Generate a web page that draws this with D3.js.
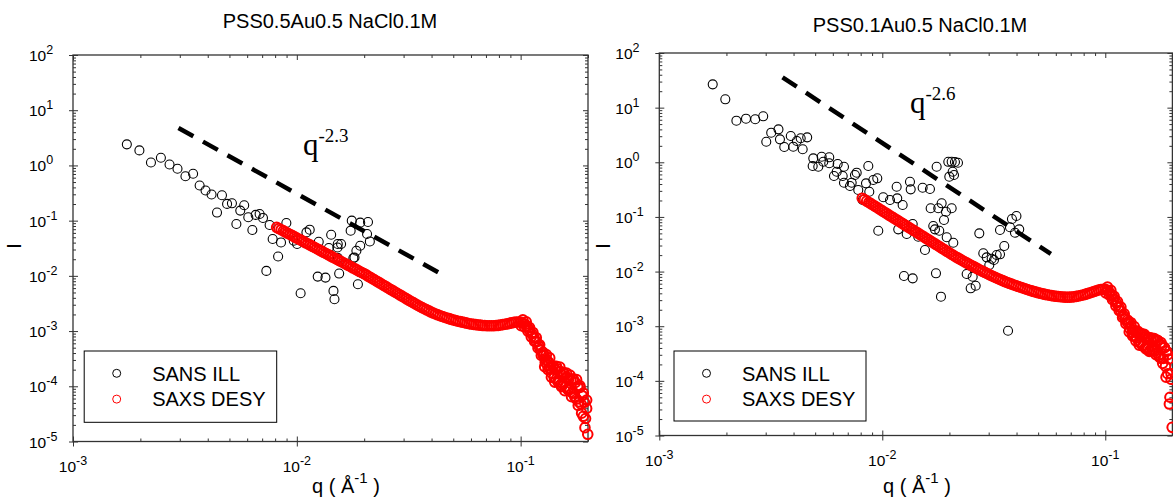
<!DOCTYPE html>
<html><head><meta charset="utf-8">
<script src="https://cdn.jsdelivr.net/npm/d3@7"></script>
<style>
body{margin:0;background:#fff;}
svg{display:block;}
text{font-family:"Liberation Sans",Arial,Helvetica,sans-serif;fill:#000;}
</style>
</head><body>
<svg id="chart" width="1173" height="503"></svg>
<script>
// ---------- DATA ----------
const titles = ["PSS0.5Au0.5 NaCl0.1M", "PSS0.1Au0.5 NaCl0.1M"];
const exponents = ["-2.3", "-2.6"];
const legendLabels = ["SANS ILL", "SAXS DESY"];
const xDomain = [1e-3, 0.2];
const yDomain = [1e-5, 1e2];

// SANS ILL, panel A (PSS0.5Au0.5)
const sansQ_A = [0.00174,0.00198,0.00223,0.00247,0.00270,0.00293,0.00318,0.00344,0.00368,0.00391,
  0.00416,0.00463,0.00440,0.00488,0.00513,0.00559,0.00582,0.00537,0.00607,0.00633,
  0.00655,0.00682,0.00706,0.00756,0.00731,0.00780,0.00825,0.00850,0.00898,0.00969,
  0.01003,0.01104,0.01142,0.01253,0.01240,0.01343,0.01424,0.01390,0.01524,0.01577,
  0.01520,0.01760,0.01920,0.02080,0.01740,0.02060,0.01920,0.01846,0.02120,0.01810,
  0.01040,0.01458,0.01473,0.01546,0.01527,0.01673,0.01789,0.01920,0.01875];
const sansI_A = [2.41,1.87,1.13,1.38,1.04,0.871,0.638,0.706,0.433,0.351,
  0.297,0.288,0.140,0.201,0.206,0.152,0.190,0.087,0.115,0.0678,
  0.127,0.132,0.112,0.0835,0.0123,0.0465,0.0224,0.0403,0.0908,0.0433,
  0.0377,0.0612,0.0686,0.0415,0.0097,0.0093,0.0556,0.0319,0.0377,0.0377,
  0.0327,0.100,0.092,0.0947,0.0658,0.0573,0.0351,0.0285,0.0420,0.0215,
  0.00484,0.00534,0.00377,0.0110,0.0210,0.0158,0.0210,0.0115,0.00706];

// SANS ILL, panel B (PSS0.1Au0.5)
const sansQ_B = [0.001736,0.001977,0.002217,0.002448,0.002692,0.002924,0.003018,0.003176,0.003423,0.003476,
  0.003635,0.003887,0.003989,0.004140,0.004306,0.004605,0.004395,0.004904,0.004873,0.005164,
  0.005348,0.005437,0.005783,0.005783,0.006309,0.006245,0.006072,0.006733,0.006644,0.006733,
  0.007163,0.007290,0.007542,0.007677,0.007804,0.008452,0.008656,0.008744,0.009114,0.009496,
  0.008166,0.009594,0.01010,0.01083,0.01160,0.01167,0.01234,0.01331,0.01341,0.01517,
  0.01636,0.01753,0.01977,0.02047,0.02118,0.02185,0.02068,0.02097,0.01998,0.01648,
  0.01782,0.01846,0.01930,0.02047,0.01891,0.01693,0.01723,0.01801,0.01945,0.02082,
  0.01554,0.01369,0.01287,0.01179,0.01402,0.01450,0.02723,0.03372,0.03524,0.02838,
  0.02939,0.03094,0.03258,0.03372,0.03019,0.03168,0.03737,0.03815,0.03996,0.04113,
  0.03936,0.01251,0.01369,0.01741,0.01833,0.02390,0.02543,0.02491,0.02623,0.03664];
const sansI_B = [26.7,14.2,5.77,6.28,6.12,6.94,2.38,3.48,4.01,2.63,
  1.90,3.03,1.93,2.45,2.75,2.86,1.73,1.18,0.855,0.830,
  1.265,1.025,1.233,0.958,0.930,0.672,0.561,0.830,0.561,0.423,
  0.368,0.423,0.585,0.645,0.311,0.412,0.855,0.289,0.474,0.509,
  0.204,0.0559,0.229,0.204,0.357,0.219,0.165,0.441,0.320,0.342,
  0.324,0.830,1.02,1.02,1.01,0.982,0.672,0.585,0.545,0.144,
  0.144,0.1775,0.1246,0.144,0.0878,0.0682,0.0593,0.0559,0.0424,0.0337,
  0.0248,0.0742,0.0487,0.0593,0.0536,0.0434,0.0501,0.0576,0.0294,0.0216,
  0.0182,0.0172,0.0201,0.0207,0.0132,0.0163,0.0646,0.0916,0.104,0.0593,
  0.0514,0.00829,0.00752,0.00929,0.00347,0.00902,0.00805,0.00494,0.00551,0.000827];

// SAXS DESY q grid (shared by both panels)
const saxsQ = [0.008128,0.008318,0.008511,0.008710,0.008913,0.009120,0.009333,0.009550,0.009772,0.01000,
  0.01023,0.01047,0.01072,0.01096,0.01122,0.01148,0.01175,0.01202,0.01230,0.01259,
  0.01288,0.01318,0.01349,0.01380,0.01413,0.01445,0.01479,0.01514,0.01549,0.01585,
  0.01622,0.01660,0.01698,0.01738,0.01778,0.01820,0.01862,0.01905,0.01950,0.01995,
  0.02042,0.02089,0.02138,0.02188,0.02239,0.02291,0.02344,0.02399,0.02455,0.02512,
  0.02570,0.02630,0.02692,0.02754,0.02818,0.02884,0.02951,0.03020,0.03090,0.03162,
  0.03236,0.03311,0.03388,0.03467,0.03548,0.03631,0.03715,0.03802,0.03890,0.03981,
  0.04074,0.04169,0.04266,0.04365,0.04467,0.04571,0.04677,0.04786,0.04898,0.05012,
  0.05129,0.05248,0.05370,0.05495,0.05623,0.05754,0.05888,0.06026,0.06166,0.06310,
  0.06457,0.06607,0.06761,0.06918,0.07079,0.07244,0.07413,0.07586,0.07762,0.07943,
  0.08128,0.08318,0.08511,0.08710,0.08913,0.09120,0.09333,0.09550,0.09772,0.1000,
  0.1023,0.1047,0.1072,0.1096,0.1122,0.1148,0.1175,0.1202,0.1230,0.1259,
  0.1274,0.1288,0.1303,0.1318,0.1334,0.1349,0.1365,0.1380,0.1396,0.1413,
  0.1429,0.1445,0.1462,0.1479,0.1496,0.1514,0.1531,0.1549,0.1567,0.1585,
  0.1603,0.1622,0.1641,0.1660,0.1679,0.1698,0.1718,0.1738,0.1758,0.1778,
  0.1799,0.1820,0.1841,0.1862,0.1884,0.1905,0.1928,0.1950,0.1972,0.1995,
  // additional high-q frames
  0.10058,0.10233,0.10411,0.10593,0.10778,0.10965,0.11156,0.11350,0.11548,0.11749,
  0.11954,0.12162,0.12374,0.12589,0.12809,0.13032,0.13259,0.13490,0.13725,0.13964,
  0.14208,0.14454,0.14706,0.14962,0.15223,0.15488,0.15758,0.16032,0.16312,0.16596,
  0.16885,0.17179,0.17478,0.17783,0.18092,0.18408,0.18728,0.19055,0.19387,0.19724];

// SAXS DESY intensities, panel A
const saxsI_A = [7.56e-2,7.19e-2,6.85e-2,6.52e-2,6.20e-2,5.90e-2,5.62e-2,5.35e-2,5.09e-2,4.84e-2,
  4.61e-2,4.39e-2,4.17e-2,3.97e-2,3.78e-2,3.60e-2,3.42e-2,3.26e-2,3.10e-2,2.95e-2,
  2.81e-2,2.67e-2,2.54e-2,2.42e-2,2.30e-2,2.19e-2,2.09e-2,1.99e-2,1.89e-2,1.80e-2,
  1.71e-2,1.63e-2,1.55e-2,1.48e-2,1.40e-2,1.34e-2,1.27e-2,1.21e-2,1.15e-2,1.10e-2,
  1.04e-2,9.82e-3,9.29e-3,8.79e-3,8.32e-3,7.87e-3,7.45e-3,7.05e-3,6.67e-3,6.31e-3,
  5.97e-3,5.65e-3,5.35e-3,5.06e-3,4.79e-3,4.53e-3,4.29e-3,4.06e-3,3.84e-3,3.63e-3,
  3.44e-3,3.27e-3,3.10e-3,2.94e-3,2.79e-3,2.66e-3,2.54e-3,2.43e-3,2.32e-3,2.21e-3,
  2.12e-3,2.04e-3,1.97e-3,1.90e-3,1.84e-3,1.78e-3,1.73e-3,1.68e-3,1.63e-3,1.59e-3,
  1.55e-3,1.51e-3,1.48e-3,1.45e-3,1.42e-3,1.39e-3,1.36e-3,1.34e-3,1.32e-3,1.31e-3,
  1.29e-3,1.28e-3,1.26e-3,1.26e-3,1.25e-3,1.25e-3,1.25e-3,1.25e-3,1.26e-3,1.27e-3,
  1.29e-3,1.31e-3,1.33e-3,1.35e-3,1.38e-3,1.41e-3,1.44e-3,1.46e-3,1.46e-3,1.45e-3,
  1.40e-3,1.32e-3,1.19e-3,1.04e-3,8.91e-4,7.59e-4,6.46e-4,5.43e-4,4.47e-4,3.67e-4,
  3.67e-4,2.73e-4,3.04e-4,2.40e-4,2.74e-4,2.11e-4,2.30e-4,1.73e-4,2.25e-4,1.43e-4,
  1.99e-4,1.35e-4,2.06e-4,1.30e-4,1.85e-4,1.07e-4,1.61e-4,1.10e-4,1.69e-4,9.84e-5,
  1.47e-4,8.97e-5,1.34e-4,8.77e-5,1.31e-4,7.64e-5,1.31e-4,7.46e-5,1.17e-4,5.87e-5,
  9.77e-5,5.22e-5,9.51e-5,4.75e-5,6.76e-5,2.86e-5,5.13e-5,2.61e-5,3.98e-5,1.35e-5,
  1.25e-3,1.60e-3,1.19e-3,1.47e-3,1.00e-3,1.16e-3,7.87e-4,9.44e-4,6.49e-4,7.59e-4,
  4.94e-4,5.65e-4,3.62e-4,4.12e-4,2.27e-4,3.74e-4,2.01e-4,3.27e-4,1.46e-4,2.36e-4,
  1.19e-4,2.29e-4,1.19e-4,2.23e-4,9.86e-5,1.79e-4,8.32e-5,1.73e-4,8.61e-5,1.60e-4,
  6.46e-5,1.37e-4,6.31e-5,1.32e-4,4.51e-5,1.02e-4,3.26e-5,7.53e-5,1.78e-5,5.62e-5];

// SAXS DESY intensities, panel B
const saxsI_B = [2.20e-1,2.07e-1,1.95e-1,1.84e-1,1.74e-1,1.64e-1,1.55e-1,1.46e-1,1.37e-1,1.29e-1,
  1.22e-1,1.15e-1,1.08e-1,1.02e-1,9.64e-2,9.08e-2,8.57e-2,8.07e-2,7.62e-2,7.18e-2,
  6.78e-2,6.38e-2,6.01e-2,5.68e-2,5.35e-2,5.05e-2,4.75e-2,4.49e-2,4.23e-2,3.98e-2,
  3.76e-2,3.54e-2,3.34e-2,3.15e-2,2.97e-2,2.80e-2,2.64e-2,2.49e-2,2.34e-2,2.21e-2,
  2.08e-2,1.97e-2,1.85e-2,1.76e-2,1.67e-2,1.58e-2,1.50e-2,1.43e-2,1.36e-2,1.29e-2,
  1.23e-2,1.17e-2,1.11e-2,1.06e-2,1.01e-2,9.66e-3,9.23e-3,8.81e-3,8.41e-3,8.05e-3,
  7.71e-3,7.40e-3,7.10e-3,6.82e-3,6.56e-3,6.32e-3,6.10e-3,5.89e-3,5.69e-3,5.51e-3,
  5.33e-3,5.18e-3,5.02e-3,4.85e-3,4.70e-3,4.56e-3,4.43e-3,4.31e-3,4.20e-3,4.09e-3,
  4.00e-3,3.91e-3,3.83e-3,3.76e-3,3.69e-3,3.63e-3,3.58e-3,3.53e-3,3.49e-3,3.46e-3,
  3.43e-3,3.40e-3,3.39e-3,3.40e-3,3.42e-3,3.46e-3,3.51e-3,3.57e-3,3.65e-3,3.73e-3,
  3.83e-3,3.94e-3,4.06e-3,4.19e-3,4.33e-3,4.47e-3,4.60e-3,4.71e-3,4.76e-3,4.73e-3,
  4.52e-3,4.12e-3,3.63e-3,3.13e-3,2.66e-3,2.26e-3,1.91e-3,1.58e-3,1.35e-3,1.16e-3,
  1.20e-3,9.12e-4,1.01e-3,7.59e-4,8.51e-4,6.68e-4,8.13e-4,6.17e-4,7.59e-4,5.13e-4,
  7.33e-4,4.90e-4,7.00e-4,4.37e-4,6.31e-4,4.07e-4,6.46e-4,4.07e-4,6.05e-4,3.58e-4,
  5.70e-4,3.61e-4,5.89e-4,3.56e-4,5.42e-4,3.27e-4,5.50e-4,2.95e-4,4.68e-4,2.57e-4,
  4.47e-4,2.57e-4,4.07e-4,1.86e-4,3.47e-4,1.35e-4,2.51e-4,5.01e-5,1.07e-4,1.41e-5,
  4.07e-3,5.19e-3,3.76e-3,4.54e-3,3.05e-3,3.51e-3,2.36e-3,2.82e-3,1.93e-3,2.24e-3,
  1.45e-3,1.68e-3,1.11e-3,1.30e-3,7.85e-4,1.16e-3,6.68e-4,9.89e-4,5.37e-4,8.13e-4,
  4.49e-4,7.41e-4,4.34e-4,7.08e-4,3.85e-4,6.17e-4,3.45e-4,6.11e-4,3.58e-4,5.92e-4,
  3.02e-4,5.37e-4,2.75e-4,5.01e-4,2.09e-4,4.07e-4,1.17e-4,3.02e-4,3.76e-5,1.35e-4];

// Power-law guide lines (end points)
const guideQ_A = [0.00296, 0.043];
const guideI_A = [4.76, 0.0115];
const guideQ_B = [0.00357, 0.057];
const guideI_B = [35.9, 0.021];

// ---------- LAYOUT ----------
const panels = [
  {title: titles[0], exp: exponents[0], sansQ: sansQ_A, sansI: sansI_A, saxsI: saxsI_A, gQ: guideQ_A, gI: guideI_A,
   left: 73, right: 588, top: 55, bottom: 441.5, titleX: 330, titleY: 28, expX: 303, expY: 155,
   lg: {x: 84.2, y: 351, w: 192.5, h: 71.3}, xLabX: 346, yLabX: 21},
  {title: titles[1], exp: exponents[1], sansQ: sansQ_B, sansI: sansI_B, saxsI: saxsI_B, gQ: guideQ_B, gI: guideI_B,
   left: 659.3, right: 1172.4, top: 53, bottom: 435.5, titleX: 920, titleY: 32, expX: 910, expY: 113,
   lg: {x: 674, y: 351, w: 192, h: 70}, xLabX: 917, yLabX: 609.5}
];

const svg = d3.select("#chart");
svg.append("rect").attr("width", 1173).attr("height", 503).attr("fill", "#fff");

const axisColor = "#333";
const isMajor = v => Math.abs(Math.log10(v) - Math.round(Math.log10(v))) < 1e-6;
const supLabel = (sel, v) => {
  const e = Math.round(Math.log10(v));
  sel.text("10");
  sel.append("tspan").attr("dy", -7).attr("font-size", 12.5).text(String(e));
};

panels.forEach(p => {
  const x = d3.scaleLog().domain(xDomain).range([p.left, p.right]);
  const y = d3.scaleLog().domain(yDomain).range([p.bottom, p.top]);
  const g = svg.append("g");

  const xt = x.ticks(), yt = y.ticks();
  const xMaj = xt.filter(isMajor), xMin = xt.filter(v => !isMajor(v));
  const yMaj = yt.filter(isMajor), yMin = yt.filter(v => !isMajor(v));

  const style = s => { s.select(".domain").remove(); s.selectAll("line").attr("stroke", axisColor).attr("stroke-width", 1); s.selectAll("text").remove(); };

  // bottom axis
  g.append("g").attr("transform", `translate(0,${p.bottom})`).call(d3.axisBottom(x).tickValues(xMaj).tickSize(5).tickFormat("")).call(style);
  g.append("g").attr("transform", `translate(0,${p.bottom})`).call(d3.axisBottom(x).tickValues(xMaj).tickSize(-5).tickFormat("")).call(style);
  g.append("g").attr("transform", `translate(0,${p.bottom})`).call(d3.axisBottom(x).tickValues(xMin).tickSize(-3).tickFormat("")).call(style);
  // top axis
  g.append("g").attr("transform", `translate(0,${p.top})`).call(d3.axisTop(x).tickValues(xMaj).tickSize(-5).tickFormat("")).call(style);
  g.append("g").attr("transform", `translate(0,${p.top})`).call(d3.axisTop(x).tickValues(xMin).tickSize(-3).tickFormat("")).call(style);
  // left axis
  g.append("g").attr("transform", `translate(${p.left},0)`).call(d3.axisLeft(y).tickValues(yMaj).tickSize(4).tickFormat("")).call(style);
  g.append("g").attr("transform", `translate(${p.left},0)`).call(d3.axisLeft(y).tickValues(yMaj).tickSize(-5).tickFormat("")).call(style);
  g.append("g").attr("transform", `translate(${p.left},0)`).call(d3.axisLeft(y).tickValues(yMin).tickSize(-3).tickFormat("")).call(style);
  // right axis
  g.append("g").attr("transform", `translate(${p.right},0)`).call(d3.axisRight(y).tickValues(yMaj).tickSize(-5).tickFormat("")).call(style);
  g.append("g").attr("transform", `translate(${p.right},0)`).call(d3.axisRight(y).tickValues(yMin).tickSize(-3).tickFormat("")).call(style);

  // frame
  g.append("rect").attr("x", p.left).attr("y", p.top)
    .attr("width", p.right - p.left).attr("height", p.bottom - p.top)
    .attr("fill", "none").attr("stroke", axisColor).attr("stroke-width", 1.3);

  // tick labels
  xMaj.forEach(v => {
    g.append("text").attr("x", x(v)).attr("y", p.bottom + 30).attr("text-anchor", "middle")
      .attr("font-size", 15.5).call(s => supLabel(s, v));
  });
  yMaj.forEach(v => {
    g.append("text").attr("x", p.left - 44).attr("y", y(v) + 6).attr("text-anchor", "start")
      .attr("font-size", 15.5).call(s => supLabel(s, v));
  });

  // axis titles
  const xl = g.append("text").attr("x", p.xLabX).attr("y", 493).attr("text-anchor", "middle").attr("font-size", 20);
  xl.append("tspan").text("q ( Å");
  xl.append("tspan").attr("dy", -10).attr("font-size", 15).text("-1");
  xl.append("tspan").attr("dy", 10).text(" )");
  g.append("text").attr("transform", `translate(${p.yLabX},246) rotate(-90)`).attr("text-anchor", "middle")
    .attr("font-size", 20).text("I");

  // title
  g.append("text").attr("x", p.titleX).attr("y", p.titleY).attr("text-anchor", "middle")
    .attr("font-size", 20).text(p.title);

  // guide dashed line
  const line = d3.line().x(d => x(d[0])).y(d => y(d[1]));
  g.append("path").datum(d3.zip(p.gQ, p.gI)).attr("d", line)
    .attr("fill", "none").attr("stroke", "#000").attr("stroke-width", 4.5).attr("stroke-dasharray", "17,11");

  // exponent annotation
  const an = g.append("text").attr("x", p.expX).attr("y", p.expY)
    .style("font-family", "'Liberation Serif','Times New Roman',serif").attr("font-size", 31);
  an.append("tspan").text("q");
  an.append("tspan").attr("dy", -13).attr("font-size", 19).text(p.exp);

  // SANS (black)
  g.append("g").selectAll("circle").data(d3.zip(p.sansQ, p.sansI)).join("circle")
    .attr("cx", d => x(d[0])).attr("cy", d => y(d[1])).attr("r", 4.5)
    .attr("fill", "none").attr("stroke", "#000").attr("stroke-width", 1.1);
  // SAXS (red)
  g.append("g").selectAll("circle").data(d3.zip(saxsQ, p.saxsI)).join("circle")
    .attr("cx", d => x(d[0])).attr("cy", d => y(d[1])).attr("r", 4.8)
    .attr("fill", "none").attr("stroke", "#ff0000").attr("stroke-width", 2);

  // legend
  const lg = g.append("g");
  lg.append("rect").attr("x", p.lg.x).attr("y", p.lg.y).attr("width", p.lg.w).attr("height", p.lg.h)
    .attr("fill", "#fff").attr("stroke", "#000").attr("stroke-width", 1);
  const colors = ["#000", "#ff0000"];
  legendLabels.forEach((lab, i) => {
    lg.append("circle").attr("cx", p.lg.x + 32.5).attr("cy", p.lg.y + 22.3 + i * 25.8).attr("r", 4)
      .attr("fill", "none").attr("stroke", colors[i]).attr("stroke-width", 1);
    lg.append("text").attr("x", p.lg.x + 68).attr("y", p.lg.y + 29.5 + i * 25.8).attr("font-size", 20).text(lab);
  });
});
</script>
</body></html>
